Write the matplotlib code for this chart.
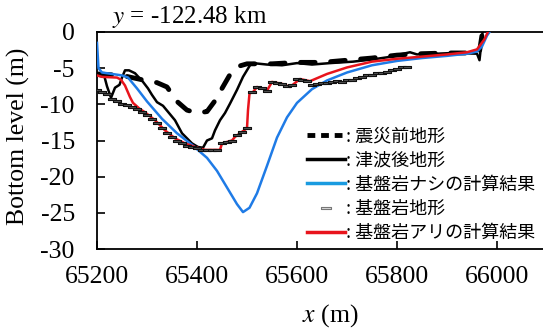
import numpy as np
import matplotlib
matplotlib.use("Agg")
import matplotlib.pyplot as plt
from matplotlib.lines import Line2D

plt.rcParams['font.family'] = ['Liberation Serif', 'DejaVu Serif']
plt.rcParams['mathtext.fontset'] = 'stix'
plt.rcParams['axes.unicode_minus'] = False

# 震災前地形
pre_x = [65200, 65250, 65290, 65320, 65340, 65360, 65380, 65400, 65420, 65435, 65450,
         65465, 65480, 65500, 65550, 65600, 65650, 65700, 65750, 65800, 65850, 65900,
         65950, 65965, 65972]
pre_y = [-5.8, -6.0, -6.6, -7.0, -7.6, -9.6, -10.8, -11.2, -11.0, -9.6, -7.8,
         -6.0, -4.8, -4.4, -4.4, -4.2, -4.2, -3.9, -3.6, -3.2, -3.0, -2.9,
         -2.9, -2.7, 0.5]

# 津波後地形
post_x = [65200, 65215, 65220, 65228, 65236, 65245, 65250, 65256, 65264, 65276, 65292,
          65302, 65310, 65320, 65332, 65356, 65370, 65390, 65402, 65412, 65420, 65430,
          65436, 65446, 65456, 65466, 65480, 65492, 65506, 65512, 65540, 65570, 65600,
          65630, 65666, 65712, 65750, 65780, 65826, 65840, 65880, 65912, 65960, 65965,
          65968, 65972]
post_y = [-6.0, -6.2, -7.5, -9.1, -7.7, -7.3, -6.3, -5.3, -5.3, -5.7, -6.9,
          -7.8, -8.7, -9.7, -10.2, -12.2, -14.0, -15.4, -15.9, -16.0, -15.0, -14.7,
          -13.6, -12.2, -11.2, -9.9, -8.0, -6.2, -4.6, -4.3, -4.5, -4.6, -4.3,
          -4.5, -4.3, -4.1, -3.8, -3.5, -2.8, -3.1, -3.0, -2.9, -3.0, -3.9,
          -2.0, 0.5]

# 基盤岩ナシの計算結果
nob_x = [65200, 65203, 65210, 65230, 65250, 65262, 65280, 65300, 65330, 65360, 65390,
         65420, 65440, 65460, 65480, 65492, 65505, 65520, 65540, 65560, 65580, 65600,
         65630, 65660, 65700, 65750, 65800, 65850, 65900, 65940, 65960, 65970, 65980,
         65990]
nob_y = [-1.5, -5.0, -5.6, -5.8, -6.0, -6.3, -7.8, -9.6, -12.0, -14.0, -15.6,
         -17.4, -19.2, -21.5, -23.8, -24.9, -24.3, -22.3, -18.5, -14.6, -11.8, -9.8,
         -7.9, -6.7, -5.6, -4.6, -4.0, -3.6, -3.3, -3.0, -2.7, -2.0, -0.5,
         0.5]

# 基盤岩アリの計算結果
wb_x = [65200, 65210, 65240, 65248, 65256, 65266, 65272, 65285, 65296, 65316, 65336,
        65356, 65376, 65396, 65416, 65446, 65450, 65470, 65476, 65486, 65490, 65500,
        65502, 65505, 65512, 65520, 65532, 65540, 65550, 65572, 65586, 65606, 65626,
        65660, 65700, 65750, 65800, 65850, 65900, 65940, 65960, 65975, 65985]
wb_y = [-6.0, -6.2, -6.3, -6.6, -7.4, -9.0, -9.8, -10.6, -11.1, -12.2, -13.6,
        -14.7, -15.4, -15.9, -16.3, -16.3, -15.4, -15.0, -14.5, -14.0, -13.8, -13.3,
        -10.8, -8.5, -8.3, -7.6, -7.8, -8.1, -6.9, -7.2, -7.6, -6.5, -6.8,
        -5.8, -4.9, -4.1, -3.7, -3.4, -3.1, -2.8, -2.4, -1.0, 0.5]

# 基盤岩地形 (10 m 間隔)
rock_x = np.arange(65200, 65830, 10)
rock_y = [-8.0, -8.3, -8.6, -9.2, -9.6, -9.9, -10.1, -10.3, -10.6, -11.0,
          -11.5, -12.0, -12.6, -13.3, -13.9, -14.5, -15.0, -15.4, -15.7, -15.9,
          -16.1, -16.3, -16.3, -16.3, -16.3, -15.4, -15.2, -15.0, -14.2, -13.8,
          -13.3, -8.3, -7.6, -7.8, -8.1, -6.9, -7.0, -7.2, -7.5, -7.3,
          -6.5, -6.7, -6.8, -7.3, -7.2, -7.0, -7.1, -6.9, -6.8, -6.9,
          -6.6, -6.6, -6.4, -6.2, -6.0, -6.0, -5.7, -5.6, -5.5, -5.3,
          -5.1, -4.9, -4.8]

labels = [": 震災前地形", ": 津波後地形", ": 基盤岩ナシの計算結果", ": 基盤岩地形", ": 基盤岩アリの計算結果"]

BLUE = '#1f7be6'
RED = '#e8141c'
rect = [(-1, -0.25), (1, -0.25), (1, 0.25), (-1, 0.25), (-1, -0.25)]

fig = plt.figure(figsize=(5.43, 3.30), dpi=100)
ax = fig.add_axes([97/543, 1-249/330, 446/543, 217/330])

ax.plot(pre_x, pre_y, color='black', lw=3.5, dashes=(3.0, 3.2), dash_capstyle='round', zorder=2)
ax.plot(post_x, post_y, color='black', lw=1.8, zorder=3)
ax.plot(nob_x, nob_y, color=BLUE, lw=1.8, zorder=4)
ax.plot(wb_x, wb_y, color=RED, lw=1.8, zorder=5)
ax.plot(rock_x, rock_y, ls='none', marker=rect, ms=5.5, mfc='#555555', mec='#111111',
        mew=0.8, zorder=6)

ax.set_xlim(65200, 66092)
ax.set_ylim(-30, 0)
ax.set_xticks([65200, 65400, 65600, 65800, 66000])
ax.set_yticks(np.arange(-30, 1, 5))
ax.tick_params(direction='in', length=6, width=1.2, labelsize=18.5)
ax.tick_params(axis='x', pad=12)
ax.tick_params(axis='y', pad=16)
ax.spines['right'].set_visible(False)
for s in ['left', 'bottom', 'top']:
    ax.spines[s].set_linewidth(1.3)

handles = [
    Line2D([], [], color='black', lw=3.5, dashes=(1.6, 1.2)),
    Line2D([], [], color='black', lw=2.5),
    Line2D([], [], color='#1a9be0', lw=2.5),
    Line2D([], [], ls='none', marker=rect, ms=7, mfc='#dddddd', mec='#777777', mew=0.8),
    Line2D([], [], color=RED, lw=2.5),
]
fig.legend(handles, labels, loc='upper left', bbox_to_anchor=(298/543, 1-118/330),
           frameon=False, borderpad=0, handlelength=2.1, handletextpad=0.05,
           labelspacing=0.35, prop={'family': ['Noto Sans CJK JP', 'DejaVu Sans'], 'size': 13})

fig.text(112/543, 1-17/330, '$y$ = -122.48 km', fontsize=18, ha='left', va='center')
fig.text(18/543, 1-136/330, 'Bottom level (m)', fontsize=18.5, rotation=90,
         ha='center', va='center')
fig.text(330/543, 1-316/330, '$x$ (m)', fontsize=18.5, ha='center', va='center')

fig.savefig('out.png', dpi=100)
